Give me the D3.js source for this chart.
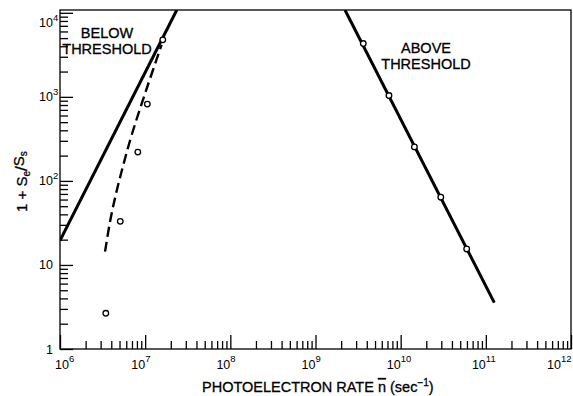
<!DOCTYPE html>
<html>
<head>
<meta charset="utf-8">
<script src="https://cdn.jsdelivr.net/npm/d3@7"></script>
<style>
  body { margin: 0; background: #fff; }
  text { font-family: "Liberation Sans", Arial, sans-serif; fill: #000; }
</style>
</head>
<body>
<svg id="chart" width="573" height="396"></svg>
<script>
// Axis ranges and tick exponents
const xDomain = [1e6, 1e12];
const yDomain = [1, 1.08e4];
const xTickExponents = [6, 7, 8, 9, 10, 11, 12];
const yTickValues = [1, 10, 100, 1000, 10000];
const yTickBase = ["1", "10", "10", "10", "10"];
const yTickSup = ["", "", "2", "3", "4"];

// Measured points below threshold
const belowRate = [3.45e6, 5.1e6, 8.2e6, 1.06e7, 1.61e7];
const belowRatio = [2.66, 33, 220, 820, 4770];

// Measured points above threshold
const aboveRate = [3.64e9, 7.29e9, 1.45e10, 2.96e10, 5.96e10];
const aboveRatio = [4310, 1036, 254, 64, 15.5];

// Theory below threshold (solid, slope +2)
const belowLineRate = [1e6, 2.35e7];
const belowLineRatio = [19.5, 1.08e4];

// Theory above threshold (solid, slope -2)
const aboveLineRate = [2.22e9, 1.257e11];
const aboveLineRatio = [1.08e4, 3.56];

// Corrected curve below threshold (dashed)
const dashRate = [3.38e6, 3.87e6, 4.54e6, 5.54e6, 6.95e6, 1.03e7, 1.56e7];
const dashRatio = [14.4, 32.8, 70, 155, 353, 1210, 4160];

const svg = d3.select("#chart");
const W = 573, H = 396;
const m = { left: 60, top: 10, right: 2, bottom: 47 };
const iw = W - m.left - m.right, ih = H - m.top - m.bottom;

const x = d3.scaleLog().domain(xDomain).range([0, iw]);
const y = d3.scaleLog().domain(yDomain).range([ih, 0]);

const g = svg.append("g").attr("transform", `translate(${m.left},${m.top})`);

svg.append("defs").append("clipPath").attr("id", "plot")
  .append("rect").attr("width", iw).attr("height", ih);

// Ticks pointing into the plot: minor and major
const xMajor = xTickExponents.map(e => Math.pow(10, e));
const xMinor = x.ticks().filter(v => !xMajor.some(M => Math.abs(v / M - 1) < 1e-9));
const yMinor = y.ticks().filter(v => !yTickValues.some(M => Math.abs(v / M - 1) < 1e-9));

function styleAxis(sel) {
  sel.select(".domain").remove();
  sel.selectAll(".tick line").attr("stroke", "#000").attr("stroke-width", 1.3);
  sel.selectAll(".tick text").remove();
}

g.append("g").attr("transform", `translate(0,${ih})`)
  .call(d3.axisBottom(x).tickValues(xMinor).tickSize(-8).tickFormat(""))
  .call(styleAxis);
g.append("g").attr("transform", `translate(0,${ih})`)
  .call(d3.axisBottom(x).tickValues(xMajor).tickSize(-14).tickFormat(""))
  .call(styleAxis);
g.append("g")
  .call(d3.axisLeft(y).tickValues(yMinor).tickSize(-8).tickFormat(""))
  .call(styleAxis);
g.append("g")
  .call(d3.axisLeft(y).tickValues(yTickValues).tickSize(-13).tickFormat(""))
  .call(styleAxis);

// Frame
g.append("rect").attr("width", iw).attr("height", ih)
  .attr("fill", "none").attr("stroke", "#000").attr("stroke-width", 1.3);

// X tick labels (10 with superscript exponent), kept inside the page
xTickExponents.forEach((e, i) => {
  const px = Math.min(Math.max(x(xMajor[i]), 9), iw - 10);
  g.append("text").attr("x", px).attr("y", ih + 20).attr("text-anchor", "end")
    .attr("font-size", 12.5).text("10");
  g.append("text").attr("x", px).attr("y", ih + 13).attr("font-size", 9.5).text(e);
});

// Y tick labels
yTickValues.forEach((v, i) => {
  const py = Math.max(y(v), 12) + 4.5;
  g.append("text").attr("x", -7).attr("y", py).attr("text-anchor", "end")
    .attr("font-size", 12.5).text(yTickBase[i]);
  if (yTickSup[i]) {
    g.append("text").attr("x", -7).attr("y", py - 6).attr("font-size", 9.5).text(yTickSup[i]);
  }
});

// Axis titles
const xt = svg.append("text").attr("x", 202).attr("y", 392).attr("font-size", 14.5)
  .attr("stroke", "#000").attr("stroke-width", 0.3);
xt.append("tspan").text("PHOTOELECTRON RATE ");
xt.append("tspan").attr("text-decoration", "overline").text("n");
xt.append("tspan").text(" (sec");
xt.append("tspan").attr("dy", -6).attr("font-size", 10).text("−1");
xt.append("tspan").attr("dy", 6).text(")");

const yt = svg.append("text").attr("transform", "translate(27,212) rotate(-90)")
  .attr("font-size", 15).attr("stroke", "#000").attr("stroke-width", 0.3);
yt.append("tspan").text("1 + S");
yt.append("tspan").attr("dy", 3).attr("font-size", 10).text("e");
yt.append("tspan").attr("dy", -3).attr("font-size", 17).text("/");
yt.append("tspan").attr("dy", -3).text("S");
yt.append("tspan").attr("dy", 3).attr("font-size", 10).text("s");

// Curves
const plot = g.append("g").attr("clip-path", "url(#plot)");
const line = d3.line().x(d => x(d[0])).y(d => y(d[1]));

plot.append("path")
  .datum(belowLineRate.map((r, i) => [r, belowLineRatio[i]]))
  .attr("d", line).attr("fill", "none").attr("stroke", "#000").attr("stroke-width", 3);

plot.append("path")
  .datum(aboveLineRate.map((r, i) => [r, aboveLineRatio[i]]))
  .attr("d", line).attr("fill", "none").attr("stroke", "#000").attr("stroke-width", 3);

plot.append("path")
  .datum(dashRate.map((r, i) => [r, dashRatio[i]]))
  .attr("d", line.curve(d3.curveCatmullRom.alpha(0.5))).attr("fill", "none")
  .attr("stroke", "#000").attr("stroke-width", 2.4).attr("stroke-dasharray", "10,5");

// Data points
const pts = belowRate.map((r, i) => [r, belowRatio[i]])
  .concat(aboveRate.map((r, i) => [r, aboveRatio[i]]));
g.selectAll("circle.pt").data(pts).join("circle").attr("class", "pt")
  .attr("cx", d => x(d[0])).attr("cy", d => y(d[1])).attr("r", 2.8)
  .attr("fill", "#fff").attr("stroke", "#000").attr("stroke-width", 1.3);

// Region annotations
function label(lines, cx, y0) {
  lines.forEach((s, i) => {
    g.append("text").attr("x", cx).attr("y", y0 + i * 15.5).attr("text-anchor", "middle")
      .attr("font-size", 14.5).attr("stroke", "#000").attr("stroke-width", 0.3).text(s);
  });
}
label(["BELOW", "THRESHOLD"], 107 - m.left, 38 - m.top);
label(["ABOVE", "THRESHOLD"], 426 - m.left, 53 - m.top);
</script>
</body>
</html>
